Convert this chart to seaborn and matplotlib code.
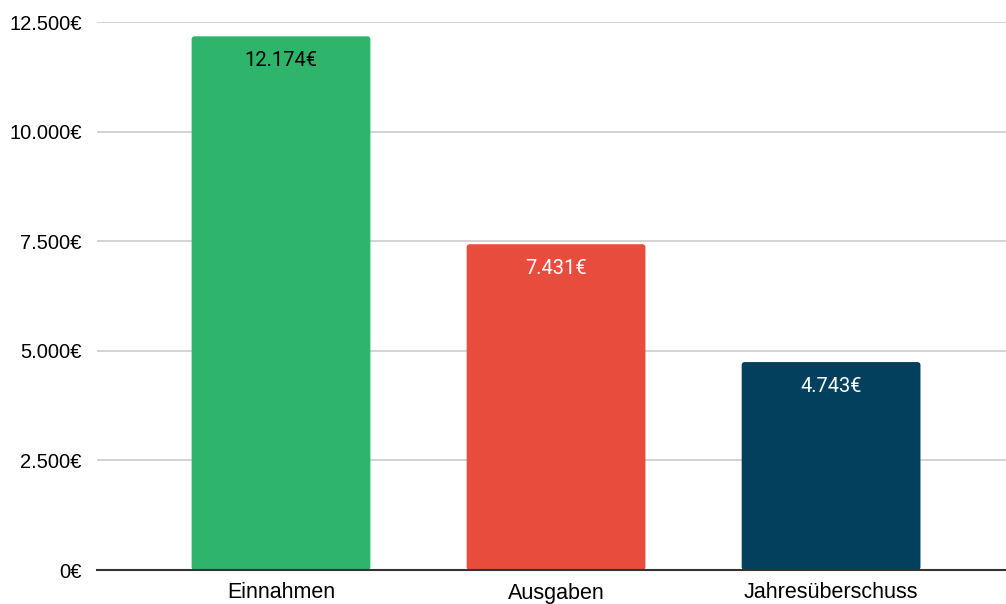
import matplotlib
matplotlib.use("Agg")
import matplotlib.pyplot as plt
import seaborn as sns
import pandas as pd
from matplotlib.patches import FancyBboxPatch

categories = ["Einnahmen", "Ausgaben", "Jahresüberschuss"]
values = [12174, 7431, 4743]
colors = ["#2EB56B", "#E74C3C", "#02405E"]
label_colors = ["black", "white", "white"]
yticks = [0, 2500, 5000, 7500, 10000, 12500]

def fmt(v):
    return f"{v:,.0f}".replace(",", ".") + "€"

sns.set_theme(style="white")
plt.rcParams["font.family"] = ["Liberation Sans", "DejaVu Sans"]

df = pd.DataFrame({"cat": categories, "val": values})
fig = plt.figure(figsize=(10.06, 6.04), dpi=100)
ax = fig.add_axes([97/1006, 34/604, 1 - 97/1006, (570-22)/604])
sns.barplot(data=df, x="cat", y="val", hue="cat", palette=colors, legend=False,
            width=0.65, ax=ax, saturation=1)

# rounded corners
for p, c in zip(list(ax.patches), colors):
    x, y, w, h = p.get_x(), p.get_y(), p.get_width(), p.get_height()
    p.set_visible(False)
    fb = FancyBboxPatch((x, y), w, h, boxstyle="round,pad=0,rounding_size=0.012",
                        mutation_aspect=6000, facecolor=c, edgecolor="none", zorder=2)
    ax.add_patch(fb)

for i, (v, lc) in enumerate(zip(values, label_colors)):
    ax.text(i, v - 330, fmt(v), ha="center", va="top", color=lc,
            fontsize=14.5, family=["Roboto", "DejaVu Sans"], zorder=3)

ax.set_ylim(0, 12500)
ax.set_xlim(-0.669, 2.636)
ax.set_yticks(yticks)
ax.set_yticklabels([fmt(t) for t in yticks])
ax.yaxis.grid(True, color="#cccccc", linewidth=1.2)
ax.set_axisbelow(True)
ax.set_xlabel("")
ax.set_ylabel("")
for s in ["top", "right", "left"]:
    ax.spines[s].set_visible(False)
ax.spines["bottom"].set_color("#333333")
ax.spines["bottom"].set_linewidth(1.5)
ax.spines["bottom"].set_zorder(4)
ax.tick_params(axis="both", length=0, colors="#222222")
ax.tick_params(axis="y", pad=11, labelsize=14.5)
ax.tick_params(axis="x", pad=9, labelsize=15.5)
for t in ax.get_yticklabels() + ax.get_xticklabels():
    t.set_color("black")

fig.savefig("out.png", dpi=100)
